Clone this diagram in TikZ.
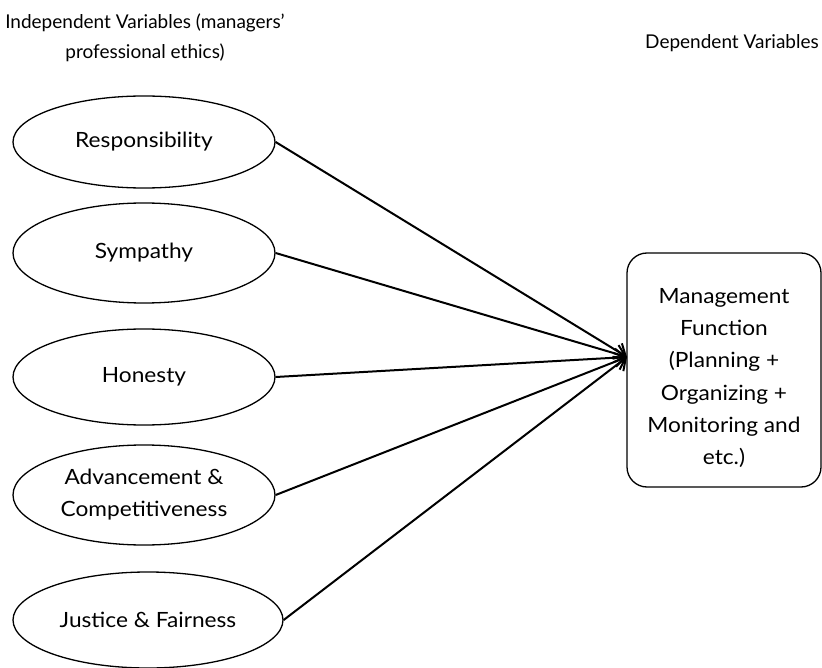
\documentclass[tikz,border=0pt]{standalone}
\usepackage{fontspec}
\setmainfont{Lato}
\newfontfamily\bodyfont[FakeStretch=1.08]{Lato}
\usetikzlibrary{shapes.geometric,arrows.meta}
\begin{document}
\begin{tikzpicture}[x=1pt,y=-1pt,
  ell/.style={draw, line width=1.3pt, ellipse, minimum width=262pt, minimum height=92pt, inner sep=0pt, align=center, font=\bodyfont\fontsize{21}{32}\selectfont},
  mbox/.style={draw, line width=1.3pt, rounded corners=20pt, minimum width=194pt, minimum height=234pt, inner sep=0pt},
  mtext/.style={align=center, inner sep=0pt, font=\bodyfont\fontsize{21}{32.3}\selectfont},
  hdr/.style={align=center, inner sep=0pt, font=\fontsize{19}{30}\selectfont},
  conn/.style={line width=2pt, -{Straight Barb[length=10pt,width=18pt,line width=2pt]}}]
\useasboundingbox (0,0) rectangle (822,668);
\node[hdr] (h1) at (145,38) {Independent Variables (managers'\\professional ethics)};
\node[hdr] (h2) at (732,43) {Dependent Variables};
\node[ell] (r) at (144,142) {Responsibility};
\node[ell, minimum height=100pt] (s) at (144,253) {Sympathy};
\node[ell, minimum height=96pt] (h) at (144,377) {Honesty};
\node[ell, minimum height=100pt] (a) at (144,495) {Advancement \&\\Competitiveness};
\node[ell, minimum width=270pt, minimum height=96pt] (j) at (148,620) {Justice \& Fairness};
\node[mbox] (m) at (724,370) {};
\node[mtext] (mt) at (724,378) {Management\\Function\\(Planning +\\Organizing +\\Monitoring and\\etc.)};
\coordinate (tip) at (627,357);
\draw[conn] (r.east) -- (tip);
\draw[conn] (s.east) -- (tip);
\draw[conn] (h.east) -- (tip);
\draw[conn] (a.east) -- (tip);
\draw[conn] (j.east) -- (tip);
\end{tikzpicture}
\end{document}
